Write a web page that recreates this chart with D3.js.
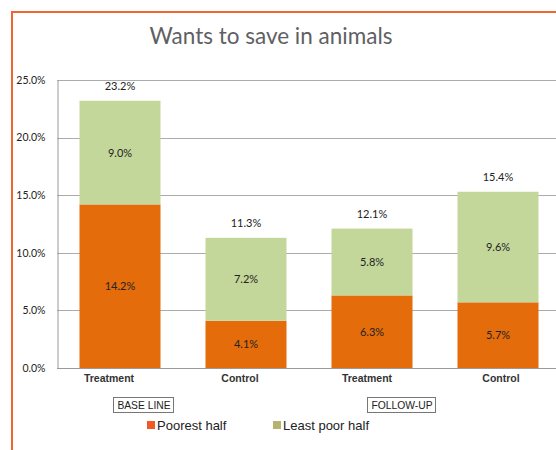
<!DOCTYPE html>
<html>
<head>
<meta charset="utf-8">
<script src="https://cdn.jsdelivr.net/npm/d3@7/dist/d3.min.js"></script>
<style>
  html, body { margin: 0; padding: 0; background: #fff; }
  svg { display: block; }
</style>
</head>
<body>
<script>
// Bar categories and their survey rounds
const categories = ["Treatment", "Control", "Treatment", "Control"];
const rounds = ["BASE LINE", "FOLLOW-UP"];
// Share (%) wanting to save in animals, by wealth half
const poorestHalf = [14.2, 4.1, 6.3, 5.7];
const leastPoorHalf = [9.0, 7.2, 5.8, 9.6];
const totals = [23.2, 11.3, 12.1, 15.4];
const yTicks = [0, 5, 10, 15, 20, 25];
const seriesNames = ["Poorest half", "Least poor half"];

const W = 556, H = 450;
const svg = d3.select("body").append("svg").attr("width", W).attr("height", H);

const colors = { poor: "#E46C0A", rich: "#C4D79B", legPoor: "#F05A24", legRich: "#B7B26E" };

// Outer frame (open to the right and bottom)
svg.append("path")
  .attr("d", `M12,${H} L12,12 L${W},12`)
  .attr("fill", "none").attr("stroke", "#F26532").attr("stroke-width", 2);

// Title
svg.append("text")
  .attr("x", 271).attr("y", 44)
  .attr("text-anchor", "middle")
  .attr("font-family", "Lato, 'Open Sans', sans-serif")
  .attr("font-size", 22.5)
  .attr("fill", "#606064")
  .text("Wants to save in animals");

const plot = { left: 57, right: 561, top: 80, bottom: 368 };

const x = d3.scaleBand()
  .domain(d3.range(categories.length))
  .range([plot.left, plot.right])
  .paddingInner(0.357)
  .paddingOuter(0.1785);

const y = d3.scaleLinear().domain([0, 25]).range([plot.bottom, plot.top]);

// Gridlines
svg.append("g").selectAll("line")
  .data(yTicks.filter(d => d > 0))
  .join("line")
  .attr("x1", plot.left).attr("x2", W)
  .attr("y1", d => Math.round(y(d)) + 0.5).attr("y2", d => Math.round(y(d)) + 0.5)
  .attr("stroke", "#ababab").attr("stroke-width", 1);

const labelFont = "Lato, 'Open Sans', sans-serif";

// Y axis
const yAxis = svg.append("g")
  .attr("transform", `translate(${plot.left + 0.5},0)`)
  .call(d3.axisLeft(y).tickValues(yTicks).tickFormat(d => d.toFixed(1) + "%").tickSize(0).tickPadding(12));
yAxis.select(".domain").attr("stroke", "#9a9a9a");
yAxis.selectAll("text")
  .attr("font-family", labelFont)
  .attr("font-size", 10.5).attr("fill", "#222");

// Stacked bars
const stackData = categories.map((c, i) => ({ i, poor: poorestHalf[i], rich: leastPoorHalf[i] }));
const stack = d3.stack().keys(["poor", "rich"])(stackData);

stack.forEach(layer => {
  const g = svg.append("g");
  g.selectAll("rect")
    .data(layer)
    .join("rect")
    .attr("x", d => x(d.data.i))
    .attr("width", x.bandwidth())
    .attr("y", d => y(d[1]))
    .attr("height", d => y(d[0]) - y(d[1]))
    .attr("fill", colors[layer.key]);
  g.selectAll("text")
    .data(layer)
    .join("text")
    .attr("x", d => x(d.data.i) + x.bandwidth() / 2)
    .attr("y", d => (y(d[0]) + y(d[1])) / 2 + 4)
    .attr("text-anchor", "middle")
    .attr("font-family", labelFont)
    .attr("font-size", 11).attr("fill", "#222")
    .text(d => d.data[layer.key].toFixed(1) + "%");
});

// Totals above bars
svg.append("g").selectAll("text")
  .data(totals)
  .join("text")
  .attr("x", (d, i) => x(i) + x.bandwidth() / 2)
  .attr("y", (d, i) => y(poorestHalf[i] + leastPoorHalf[i]) - 11)
  .attr("text-anchor", "middle")
  .attr("font-family", labelFont)
  .attr("font-size", 11).attr("fill", "#222")
  .text(d => d.toFixed(1) + "%");

// Baseline
svg.append("line")
  .attr("x1", plot.left).attr("x2", W)
  .attr("y1", plot.bottom + 0.5).attr("y2", plot.bottom + 0.5)
  .attr("stroke", "#9a9a9a");

// Category labels, nudged horizontally relative to bar centres
const catShift = [-11, -6, -5, 3];
svg.append("g").selectAll("text")
  .data(categories)
  .join("text")
  .attr("x", (d, i) => x(i) + x.bandwidth() / 2 + catShift[i])
  .attr("y", 382)
  .attr("text-anchor", "middle")
  .attr("font-family", "'Liberation Sans', Arial, sans-serif")
  .attr("font-weight", "bold")
  .attr("font-size", 10.5).attr("fill", "#333")
  .text(d => d);

// Round labels in boxes
const roundPos = [144, 402];
rounds.forEach((r, k) => {
  const g = svg.append("g");
  const t = g.append("text")
    .attr("x", roundPos[k]).attr("y", 409)
    .attr("text-anchor", "middle")
    .attr("font-family", "'Liberation Sans', Arial, sans-serif")
    .attr("font-size", 10.3).attr("fill", "#222")
    .text(r);
  const bb = t.node().getBBox();
  g.insert("rect", "text")
    .attr("x", Math.round(bb.x - 4) + 0.5).attr("y", 397.5)
    .attr("width", Math.round(bb.width + 7)).attr("height", 15)
    .attr("fill", "#fff").attr("stroke", "#777");
});

// Legend
const legX = [147, 273];
const legColors = [colors.legPoor, colors.legRich];
seriesNames.forEach((s, k) => {
  svg.append("rect")
    .attr("x", legX[k]).attr("y", 421).attr("width", 8).attr("height", 8)
    .attr("fill", legColors[k]);
  svg.append("text")
    .attr("x", legX[k] + 10).attr("y", 430)
    .attr("font-family", "'Liberation Sans', Arial, sans-serif")
    .attr("font-size", 13).attr("fill", "#222")
    .text(s);
});
</script>
</body>
</html>
